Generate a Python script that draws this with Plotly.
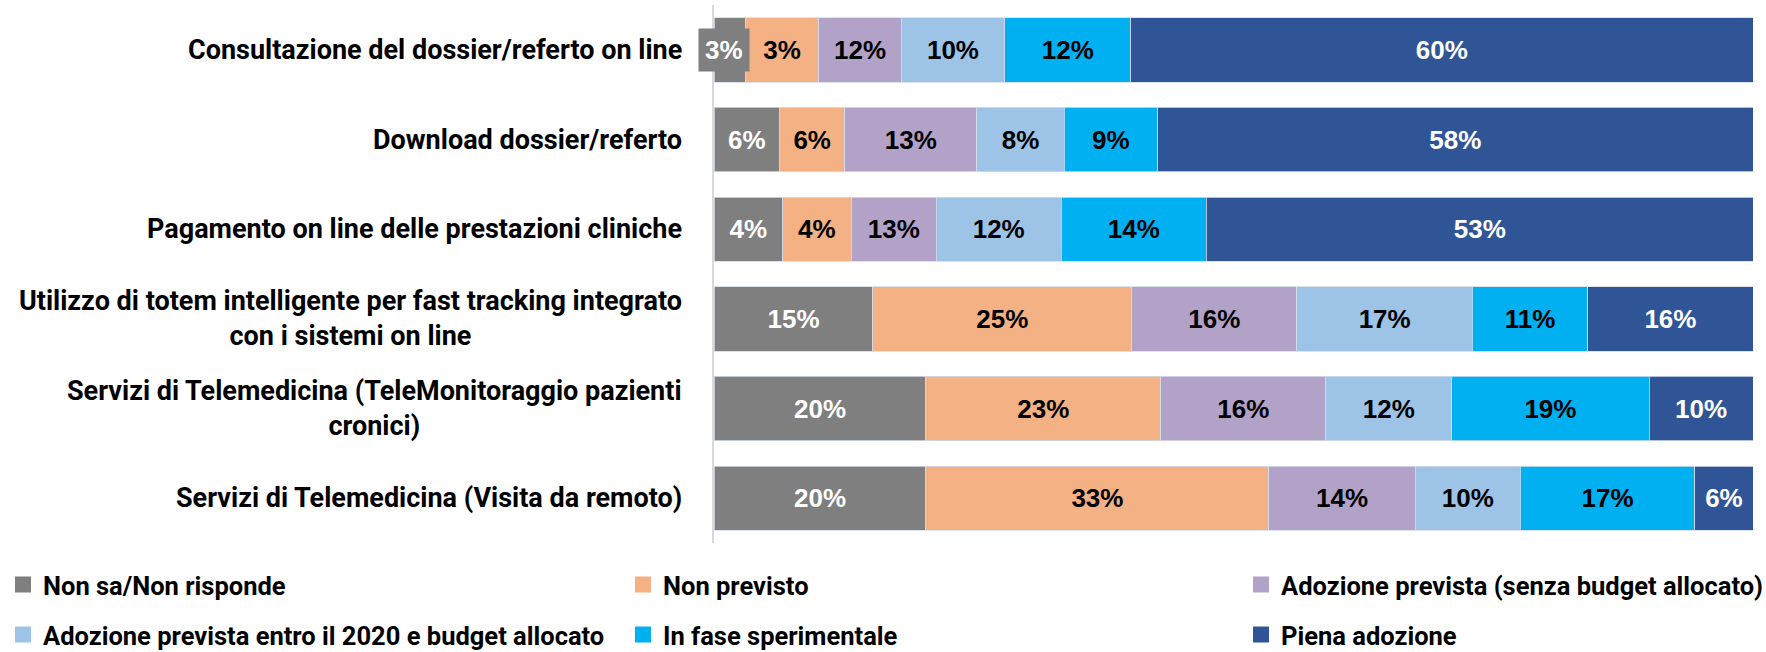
import plotly.graph_objects as go

categories = [
    "Consultazione del dossier/referto on line",
    "Download dossier/referto",
    "Pagamento on line delle prestazioni cliniche",
    "Utilizzo di totem intelligente per fast tracking integrato<br>con i sistemi on line",
    "Servizi di Telemedicina (TeleMonitoraggio pazienti<br>cronici)",
    "Servizi di Telemedicina (Visita da remoto)",
]

series_names = [
    "Non sa/Non risponde",
    "Non previsto",
    "Adozione prevista (senza budget allocato)",
    "Adozione prevista entro il 2020 e budget allocato",
    "In fase sperimentale",
    "Piena adozione",
]

# bar lengths as drawn (percent)
non_sa = [3.0, 6.3, 6.6, 15.3, 20.4, 20.4]
non_previsto = [7.1, 6.3, 6.6, 24.9, 22.6, 33.0]
adoz_senza_budget = [7.9, 12.7, 8.2, 15.9, 15.9, 14.1]
adoz_2020_budget = [10.0, 8.4, 12.0, 16.9, 12.1, 10.1]
sperimentale = [12.1, 9.0, 14.0, 11.1, 19.0, 16.8]
piena_adozione = [59.9, 57.3, 52.6, 15.9, 10.0, 5.6]

# data labels as printed
non_sa_lbl = ["3%", "6%", "4%", "15%", "20%", "20%"]
non_previsto_lbl = ["3%", "6%", "4%", "25%", "23%", "33%"]
adoz_senza_budget_lbl = ["12%", "13%", "13%", "16%", "16%", "14%"]
adoz_2020_budget_lbl = ["10%", "8%", "12%", "17%", "12%", "10%"]
sperimentale_lbl = ["12%", "9%", "14%", "11%", "19%", "17%"]
piena_adozione_lbl = ["60%", "58%", "53%", "16%", "10%", "6%"]

colors = ["#7f7f7f", "#f4b183", "#b3a2c7", "#9dc3e6", "#00b0f0", "#2f5597"]
text_colors = ["white", "black", "black", "black", "black", "white"]

values = [non_sa, non_previsto, adoz_senza_budget, adoz_2020_budget, sperimentale, piena_adozione]
labels = [non_sa_lbl, non_previsto_lbl, adoz_senza_budget_lbl, adoz_2020_budget_lbl,
          sperimentale_lbl, piena_adozione_lbl]

CAT_FONT = "Roboto"
NUM_FONT = "Liberation Sans, Arial, sans-serif"

fig = go.Figure()
legend_ids = ["legend", "legend2", "legend3", "legend4", "legend5", "legend6"]
for i, (name, vals, lbls) in enumerate(zip(series_names, values, labels)):
    txt = list(lbls)
    if i == 0:
        txt[0] = ""  # first label drawn as boxed annotation (overflows the thin bar)
    fig.add_trace(go.Bar(
        y=categories, x=vals, name=name, orientation="h",
        marker=dict(color=colors[i], line=dict(color="#d3dbea", width=0.8)),
        text=txt, textposition="inside", insidetextanchor="middle",
        textangle=0, constraintext="none",
        textfont=dict(family=NUM_FONT, size=26, color=text_colors[i], weight="bold"),
        showlegend=False, hoverinfo="skip",
    ))

# legend keys (square swatches in the series colours)
for i, name in enumerate(series_names):
    fig.add_trace(go.Scatter(
        x=[None], y=[None], mode="markers", name=name,
        marker=dict(symbol="square", size=18, color=colors[i]),
        legend=legend_ids[i], showlegend=True, hoverinfo="skip",
    ))

# boxed label for the thin first segment
fig.add_annotation(
    x=non_sa[0] / 2, y=categories[0], xref="x", yref="y",
    text=non_sa_lbl[0], showarrow=False, xshift=-6,
    bgcolor=colors[0], borderpad=6,
    font=dict(family=NUM_FONT, size=26, color="white", weight="bold"),
)

# category labels (centered multi-line, right aligned block)
for c in categories:
    fig.add_annotation(
        x=0, y=c, xref="paper", yref="y", xanchor="right", yanchor="middle",
        xshift=-30, text=c, showarrow=False, align="center",
        font=dict(family=CAT_FONT, size=27, color="black", weight="bold"),
    )

W, H = 1766, 652
leg_x = [3, 623, 1241, 3, 623, 1241]
leg_y = [585, 585, 585, 635, 635, 635]
layout_legends = {}
for lid, lx, ly in zip(legend_ids, leg_x, leg_y):
    layout_legends[lid] = dict(
        xref="container", yref="container", x=lx / W, y=1 - ly / H,
        xanchor="left", yanchor="middle", orientation="h", itemsizing="trace",
        bgcolor="rgba(0,0,0,0)", borderwidth=0,
        font=dict(family=CAT_FONT, size=25.5, color="black", weight="bold"),
    )

fig.update_layout(
    width=W, height=H, barmode="stack", bargap=0.2825,
    plot_bgcolor="white", paper_bgcolor="white",
    margin=dict(l=713.5, r=12.7, t=4.6, b=108.9, autoexpand=False),
    xaxis=dict(range=[0, 100], showgrid=False, zeroline=False, showticklabels=False,
               showline=False, fixedrange=True),
    yaxis=dict(autorange="reversed", showticklabels=False, showgrid=False,
               showline=True, linecolor="#d9d9d9", linewidth=2, ticks=""),
    showlegend=True,
    **layout_legends,
)

fig.write_html(
    "out.html",
    config={"displayModeBar": False},
    post_script="document.body.style.margin='0';document.body.style.overflow='hidden';",
)
